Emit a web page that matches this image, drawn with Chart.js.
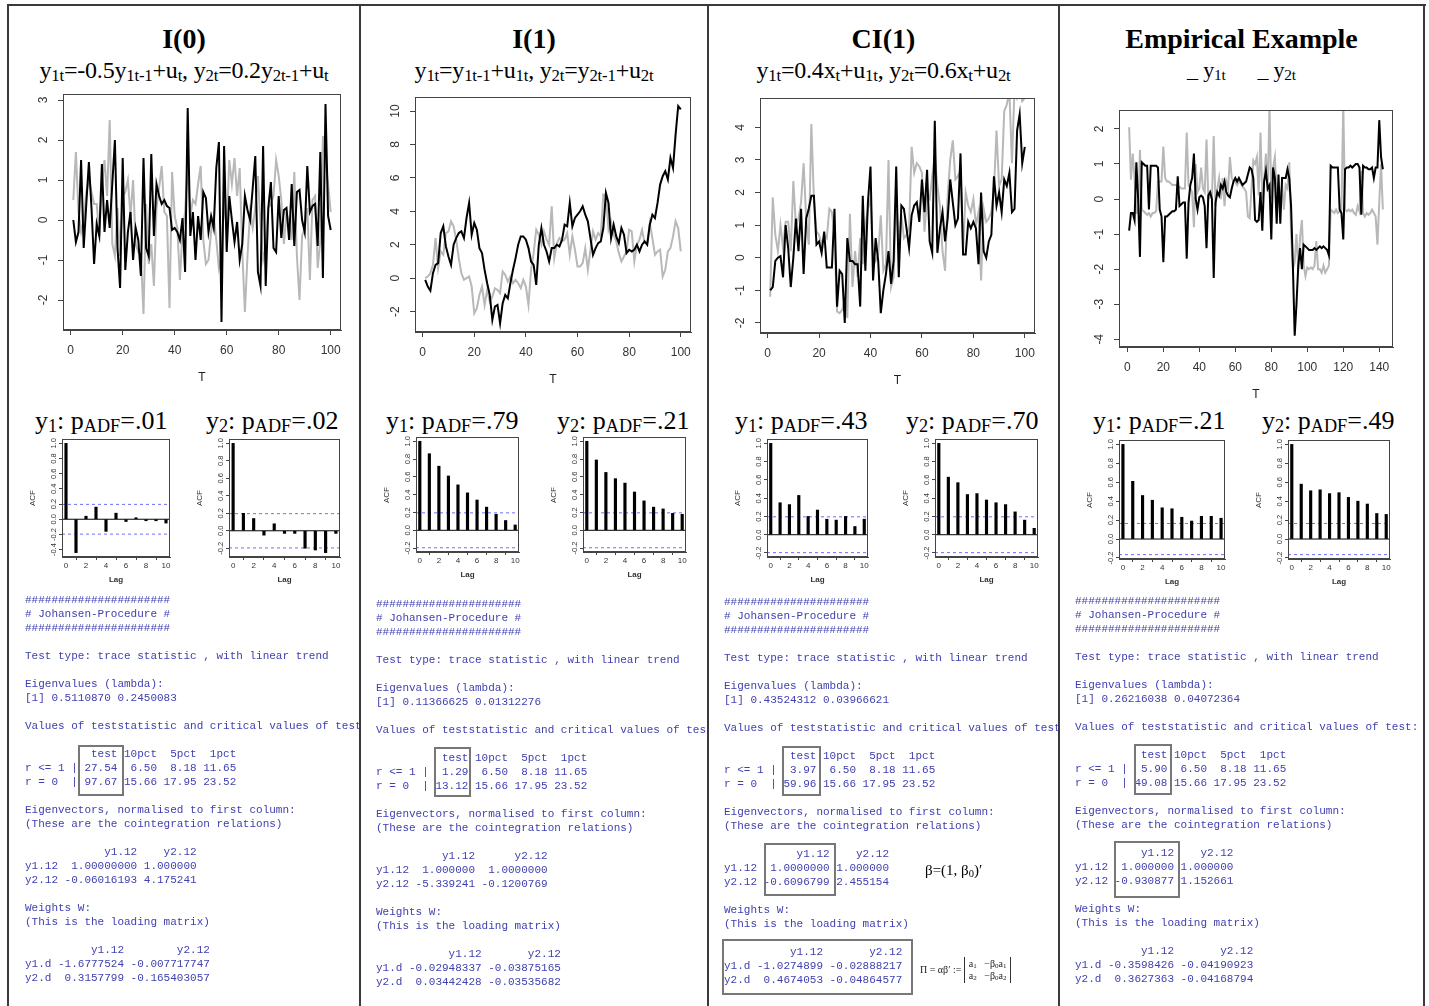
<!DOCTYPE html>
<html><head><meta charset="utf-8">
<script src="https://cdn.jsdelivr.net/npm/chart.js@4.4.1/dist/chart.umd.min.js"></script>
<style>
body{margin:0;width:1429px;height:1006px;position:relative;background:#fff;overflow:hidden;font-family:"Liberation Serif","Times New Roman",serif;color:#000}
canvas{position:absolute}
.vl{position:absolute;top:4px;height:1010px;width:2px;background:#3a3a3a}
.hl{position:absolute;left:8px;width:1418px;top:4px;height:2px;background:#3a3a3a}
.title{position:absolute;top:25px;font-weight:bold;font-size:28px;line-height:28px;text-align:center;white-space:nowrap}
.sub{position:absolute;top:58px;font-size:24px;line-height:24px;text-align:center;white-space:nowrap;letter-spacing:-0.2px}
sub{font-size:0.7em;vertical-align:-0.18em;line-height:0}
.acfh{position:absolute;top:408px;font-size:26px;line-height:26px;white-space:nowrap}
.axl{position:absolute;font:12px "Liberation Sans",Arial,sans-serif;color:#222;transform:translate(-50%,-50%);white-space:nowrap}
.lag{position:absolute;font:bold 8px "Liberation Sans",Arial,sans-serif;color:#333;transform:translate(-50%,-50%)}
.acfl{position:absolute;font:8px "Liberation Sans",Arial,sans-serif;color:#333;transform:translate(-50%,-50%) rotate(-90deg)}
.col{position:absolute;top:585px;height:421px;overflow:hidden}
pre{position:absolute;margin:0;font-family:"Liberation Mono","Courier New",monospace;font-size:11px;line-height:14px;color:#4040b0}
.bx{position:absolute;border:2px solid #777;box-sizing:border-box}
</style></head><body>

<div class="hl"></div>
<div class="vl" style="left:7px"></div>
<div class="vl" style="left:359px"></div>
<div class="vl" style="left:707px"></div>
<div class="vl" style="left:1058px"></div>
<div class="vl" style="left:1423px"></div>

<div class="title" style="left:9px;width:350px">I(0)</div>
<div class="title" style="left:361px;width:346px">I(1)</div>
<div class="title" style="left:709px;width:349px">CI(1)</div>
<div class="title" style="left:1060px;width:363px">Empirical Example</div>

<div class="sub" style="left:9px;width:350px">y<sub>1t</sub>=-0.5y<sub>1t-1</sub>+u<sub>t</sub>, y<sub>2t</sub>=0.2y<sub>2t-1</sub>+u<sub>t</sub></div>
<div class="sub" style="left:361px;width:346px">y<sub>1t</sub>=y<sub>1t-1</sub>+u<sub>1t</sub>, y<sub>2t</sub>=y<sub>2t-1</sub>+u<sub>2t</sub></div>
<div class="sub" style="left:709px;width:349px">y<sub>1t</sub>=0.4x<sub>t</sub>+u<sub>1t</sub>, y<sub>2t</sub>=0.6x<sub>t</sub>+u<sub>2t</sub></div>
<div class="sub" style="left:1060px;width:363px;font-size:22px">_ y<sub>1t</sub>&nbsp;&nbsp;&nbsp;&nbsp;&nbsp; _ y<sub>2t</sub></div>

<div class="acfh" style="left:35px">y<sub>1</sub>: p<sub>ADF</sub>=.01</div>
<div class="acfh" style="left:206px">y<sub>2</sub>: p<sub>ADF</sub>=.02</div>
<div class="acfh" style="left:386px">y<sub>1</sub>: p<sub>ADF</sub>=.79</div>
<div class="acfh" style="left:557px">y<sub>2</sub>: p<sub>ADF</sub>=.21</div>
<div class="acfh" style="left:735px">y<sub>1</sub>: p<sub>ADF</sub>=.43</div>
<div class="acfh" style="left:906px">y<sub>2</sub>: p<sub>ADF</sub>=.70</div>
<div class="acfh" style="left:1093px">y<sub>1</sub>: p<sub>ADF</sub>=.21</div>
<div class="acfh" style="left:1262px">y<sub>2</sub>: p<sub>ADF</sub>=.49</div>

<canvas id="m1"></canvas><canvas id="m2"></canvas><canvas id="m3"></canvas><canvas id="m4"></canvas>
<canvas id="a1l"></canvas><canvas id="a1r"></canvas><canvas id="a2l"></canvas><canvas id="a2r"></canvas>
<canvas id="a3l"></canvas><canvas id="a3r"></canvas><canvas id="a4l"></canvas><canvas id="a4r"></canvas>

<div id="labels"></div>

<div class="col" style="left:9px;width:350px"><pre style="left:16px;top:8px">######################
# Johansen-Procedure #
######################

Test type: trace statistic , with linear trend 

Eigenvalues (lambda):
[1] 0.5110870 0.2450083

Values of teststatistic and critical values of test:

          test 10pct  5pct  1pct
r &lt;= 1 | 27.54  6.50  8.18 11.65
r = 0  | 97.67 15.66 17.95 23.52

Eigenvectors, normalised to first column:
(These are the cointegration relations)

            y1.12    y2.12
y1.12  1.00000000 1.000000
y2.12 -0.06016193 4.175241

Weights W:
(This is the loading matrix)

          y1.12        y2.12
y1.d -1.6777524 -0.007717747
y2.d  0.3157799 -0.165403057</pre></div>

<div class="col" style="left:361px;width:346px"><pre style="left:15px;top:12px">######################
# Johansen-Procedure #
######################

Test type: trace statistic , with linear trend 

Eigenvalues (lambda):
[1] 0.11366625 0.01312276

Values of teststatistic and critical values of test:

          test 10pct  5pct  1pct
r &lt;= 1 |  1.29  6.50  8.18 11.65
r = 0  | 13.12 15.66 17.95 23.52

Eigenvectors, normalised to first column:
(These are the cointegration relations)

          y1.12      y2.12
y1.12  1.000000  1.0000000
y2.12 -5.339241 -0.1200769

Weights W:
(This is the loading matrix)

           y1.12       y2.12
y1.d -0.02948337 -0.03875165
y2.d  0.03442428 -0.03535682</pre></div>

<div class="col" style="left:709px;width:349px"><pre style="left:15px;top:10px">######################
# Johansen-Procedure #
######################

Test type: trace statistic , with linear trend 

Eigenvalues (lambda):
[1] 0.43524312 0.03966621

Values of teststatistic and critical values of test:

          test 10pct  5pct  1pct
r &lt;= 1 |  3.97  6.50  8.18 11.65
r = 0  | 59.96 15.66 17.95 23.52

Eigenvectors, normalised to first column:
(These are the cointegration relations)

           y1.12    y2.12
y1.12  1.0000000 1.000000
y2.12 -0.6096799 2.455154

Weights W:
(This is the loading matrix)

          y1.12       y2.12
y1.d -1.0274899 -0.02888217
y2.d  0.4674053 -0.04864577</pre></div>

<div class="col" style="left:1060px;width:363px"><pre style="left:15px;top:9px">######################
# Johansen-Procedure #
######################

Test type: trace statistic , with linear trend 

Eigenvalues (lambda):
[1] 0.26216038 0.04072364

Values of teststatistic and critical values of test:

          test 10pct  5pct  1pct
r &lt;= 1 |  5.90  6.50  8.18 11.65
r = 0  | 49.08 15.66 17.95 23.52

Eigenvectors, normalised to first column:
(These are the cointegration relations)

          y1.12    y2.12
y1.12  1.000000 1.000000
y2.12 -0.930877 1.152661

Weights W:
(This is the loading matrix)

          y1.12       y2.12
y1.d -0.3598426 -0.04190923
y2.d  0.3627363 -0.04168794</pre></div>

<div class="bx" style="left:78px;top:745px;width:46px;height:51px"></div>
<div class="bx" style="left:434px;top:747px;width:37px;height:50px"></div>
<div class="bx" style="left:782px;top:746px;width:39px;height:50px"></div>
<div class="bx" style="left:1134px;top:744px;width:38px;height:51px"></div>
<div class="bx" style="left:764px;top:843px;width:72px;height:53px"></div>
<div class="bx" style="left:1114px;top:841px;width:66px;height:57px"></div>
<div class="bx" style="left:722px;top:939px;width:191px;height:56px"></div>

<div style="position:absolute;left:925px;top:863px;font-size:15px;line-height:15px;white-space:nowrap">β=(1, β<sub>0</sub>)′</div>
<div style="position:absolute;left:920px;top:957px;font-size:10px;line-height:12px;white-space:nowrap;display:flex;align-items:center;color:#222">
<span>Π = αβ′ :=&nbsp;</span>
<span style="display:inline-block;border-left:1px solid #333;border-right:1px solid #333;padding:1px 4px;line-height:12px">a<sub>1</sub>&nbsp;&nbsp; −β<sub>0</sub>a<sub>1</sub><br>a<sub>2</sub>&nbsp;&nbsp; −β<sub>0</sub>a<sub>2</sub></span>
</div>

<script>
// ---------- DATA ----------
const i0_y1 = [0,-0.55,-0.3,1.5,-0.7,0.4,1.45,0.3,-1.1,-0.1,
 -0.4,1.4,-0.3,0.5,-0.2,0.9,2.0,-0.7,-1.7,1.55,
 -1.25,-0.3,0.2,-1.0,-0.2,-0.5,-1.4,1.55,-0.7,-0.9,
 1.65,-0.4,0.9,0.6,0.4,0.5,0.35,0.3,-0.25,-0.2,
 -0.3,-0.5,0.05,-1.3,2.8,-0.4,0.2,-1.0,0.1,-0.5,
 0.7,0.55,-0.3,0.1,-0.2,1.3,1.95,-2.55,1.85,-0.8,
 0.6,0.0,-0.55,-0.05,-1.0,-0.6,0.6,0.25,0.0,0.8,
 1.6,-1.3,-1.65,1.85,-1.65,0.3,0.95,-0.7,-0.8,0.6,
 -0.45,0.25,0.3,-0.5,0.9,-0.65,0.7,0.75,0.0,-0.3,
 1.35,0.2,0.35,0.4,-0.65,1.7,-1.45,2.9,0.1,-0.25];
const i0_y2 = [0.5,1.7,0.2,-0.3,0.0,0.7,1.0,0.7,0.4,0.4,
 -0.4,0.9,1.5,0.6,2.5,-0.6,-0.9,0.3,-0.9,0.6,
 0.7,1.0,0.1,1.0,-0.6,-0.8,-0.9,-2.35,0.4,-1.1,
 -0.6,-1.65,0.3,0.8,1.35,0.2,0.1,-2.2,1.2,0.1,
 -0.2,-1.5,-0.3,0.2,1.4,0.1,0.5,0.4,0.9,1.35,
 -0.5,-1.1,-1.0,-0.3,0.1,-0.5,-1.2,-0.9,0.5,-0.2,
 1.5,0.9,1.55,0.6,1.3,-0.8,-2.3,-0.9,0.2,-0.2,
 0.3,1.1,-0.1,-1.0,-0.7,0.3,0.4,0.6,1.5,1.1,
 0.5,-0.6,0.2,-0.1,-0.5,1.2,-0.9,-2.0,-0.4,-0.2,
 0.3,-1.5,0.5,0.6,-1.2,-0.5,2.1,1.5,0.9,0.2];
const i1_y1 = [-0.1,-0.5,-0.75,0.3,0.8,0.9,2.7,3.1,1.9,1.3,
 0.8,2.0,2.4,2.7,2.8,2.4,3.6,4.5,2.6,3.3,
 2.9,1.8,1.5,0.5,-0.3,-1.0,-2.5,-1.7,-1.6,-2.7,
 -1.5,-1.0,-1.2,-0.3,0.5,1.2,2.0,2.5,2.5,2.3,
 1.8,1.0,0.8,-0.4,2.0,3.0,2.0,1.6,1.0,1.8,
 1.8,2.0,1.9,2.3,3.2,3.1,4.5,3.1,3.6,3.8,
 4.0,4.3,3.8,3.4,2.4,1.4,1.8,2.1,2.2,3.0,
 5.1,4.5,2.4,3.2,2.5,2.1,3.0,2.6,1.5,1.7,
 1.6,1.7,2.0,1.6,2.0,2.2,2.0,3.2,3.8,3.6,
 4.5,5.6,6.1,6.4,5.9,7.2,6.6,8.6,10.3,10.1];
const i1_y2 = [0.0,0.1,0.3,0.8,2.4,0.6,1.6,1.4,2.7,2.8,
 3.4,3.1,2.3,1.2,0.3,-0.1,0.0,0.1,-0.5,-2.1,
 -1.8,-1.0,-0.5,-1.6,-0.7,-1.4,-1.1,-0.6,-0.7,-0.9,
 0.4,0.2,-0.2,0.1,-0.3,-0.1,-0.3,-0.6,-0.1,-0.5,
 -1.6,0.5,1.5,2.9,2.6,2.0,2.8,2.3,2.0,4.3,
 1.2,2.1,2.4,2.2,2.3,2.7,1.4,2.5,1.7,0.7,
 0.7,0.9,1.8,0.5,1.7,2.8,2.3,2.7,2.5,5.0,
 4.9,2.9,3.4,2.6,2.2,1.5,1.0,1.3,1.6,2.9,
 2.8,1.0,2.0,2.3,2.9,2.1,2.1,3.3,2.4,1.4,
 1.6,1.7,0.1,0.5,1.6,1.8,2.5,3.4,3.0,1.6];
const ci_y1 = [-1.0,-0.9,-0.1,0.0,0.05,-0.6,1.0,0.3,-0.9,0.0,
 1.2,0.2,1.5,-0.5,1.2,1.5,1.9,1.9,0.4,0.5,
 0.15,0.8,-0.3,-0.3,-0.3,1.5,-1.5,-0.4,-0.5,-2.0,
 0.6,-0.1,-0.1,-0.2,-0.2,-1.5,1.9,-0.4,1.7,2.8,
 -0.7,0.6,-0.1,-1.7,-1.0,-0.5,0.2,-0.8,-0.1,2.8,
 -0.6,1.6,1.5,0.9,0.3,1.3,1.6,1.7,1.1,2.4,
 1.4,2.7,0.5,0.15,4.2,0.15,0.9,1.4,0.5,1.2,
 2.4,1.7,1.0,1.2,3.2,0.1,0.1,1.1,0.9,1.1,
 0.9,-0.2,2.0,0.2,0.0,0.5,0.7,2.5,1.6,2.0,
 1.4,2.4,2.2,2.6,1.4,1.5,3.9,4.4,2.9,3.4];
const ci_y2 = [-1.2,1.85,0.7,0.2,1.0,0.3,1.1,1.1,0.2,2.35,
 1.0,1.2,1.7,2.9,1.2,0.4,4.1,1.8,0.8,0.7,
 0.4,0.7,0.6,1.5,1.4,0.7,-1.65,-1.7,-1.6,-1.3,
 -1.85,1.35,-0.9,0.2,-0.6,0.6,-0.2,1.0,1.5,1.8,
 0.1,-0.1,0.1,1.3,-0.4,-0.2,3.0,-0.9,-0.6,2.0,
 0.2,1.3,0.6,0.7,0.9,3.4,2.6,2.9,2.8,2.6,
 0.8,1.9,1.8,2.5,3.1,2.2,1.6,0.2,-0.4,1.9,
 3.0,3.6,2.4,2.5,2.7,0.2,2.0,1.6,1.4,1.8,
 1.0,1.4,-0.7,1.5,1.1,1.2,1.4,2.1,3.9,2.2,
 2.4,4.5,4.7,5.1,2.9,5.2,4.9,5.1,4.8,4.9];
const emp_y1 = [-0.9,-0.4,-0.4,-0.6,1.05,0.0,-1.65,1.05,1.0,0.95,
 0.95,-0.3,0.95,0.95,0.95,0.95,0.9,-0.3,-0.5,-1.8,
 -0.5,-0.5,-0.45,-0.4,-0.35,-0.35,-0.3,0.65,-0.2,-0.15,
 -0.1,-0.1,-1.7,-0.1,0.4,0.6,1.3,0.0,-0.3,0.05,
 0.1,0.05,-0.2,-1.4,0.1,0.2,0.0,-2.25,-0.1,0.2,
 0.1,0.4,0.3,0.5,0.2,0.1,0.05,0.3,0.5,0.6,
 0.5,0.6,0.5,0.4,0.45,0.5,0.7,0.9,0.85,0.6,
 -0.6,-0.65,-0.6,0.2,-0.9,0.5,0.8,0.3,0.4,-1.15,
 0.9,0.6,-0.7,0.7,-0.7,0.6,0.6,0.6,0.85,0.6,
 -0.2,-1.9,-3.9,-3.0,-1.9,-1.4,-2.0,-1.3,-1.35,-1.4,
 -1.45,-1.45,-1.45,-1.4,-1.45,-1.4,-1.35,-1.4,-1.35,-1.4,
 -1.45,-1.6,0.95,0.9,0.9,0.9,0.9,-0.3,-0.4,-1.15,
 0.85,0.9,0.9,0.95,0.9,0.95,1.0,1.0,0.9,-0.45,
 0.95,0.9,0.9,0.85,0.85,0.9,0.6,0.9,0.9,2.25,
 1.2,0.85];
const emp_y2 = [2.05,0.55,1.3,0.6,-0.4,-0.4,1.4,-0.3,-0.35,-0.4,
 -0.45,-0.4,-0.5,-0.4,-0.4,-0.35,0.5,0.5,0.5,1.5,
 0.6,0.5,0.5,0.45,0.4,0.4,0.4,0.35,0.35,0.3,
 0.3,0.3,1.9,0.4,0.3,0.2,-0.8,1.0,0.2,0.3,
 0.9,0.3,0.2,1.7,0.0,0.1,0.0,1.8,-0.2,0.3,
 0.6,0.0,0.6,-0.2,0.5,0.3,1.2,0.6,0.5,0.5,
 0.4,0.5,0.45,0.35,0.3,0.2,-0.5,-0.55,0.3,1.1,
 1.0,1.2,0.1,1.9,0.0,0.5,1.3,0.2,2.7,0.0,
 0.9,1.2,0.1,0.4,0.0,0.4,-0.3,0.4,0.3,1.05,
 -1.0,-2.0,-1.8,-1.0,-2.0,-1.1,-0.6,-1.9,-2.2,-1.95,
 -2.0,-1.95,-2.0,-1.9,-1.2,-2.0,-2.0,-2.1,-1.9,-2.1,
 -2.0,-1.9,-0.3,-0.35,-0.4,-0.3,-0.4,-0.35,-0.3,2.7,
 -0.3,-0.35,-0.3,-0.35,-0.3,-0.4,-0.45,-0.2,-0.35,0.8,
 -0.4,-0.5,-0.4,-0.45,-0.4,-0.3,-0.4,-0.5,-1.3,-0.1,
 1.0,-0.3];

const lags = [0,1,2,3,4,5,6,7,8,9,10];
const acf_i0_y1 = [1.0,-0.44,0.04,0.16,-0.16,0.08,-0.03,0.02,-0.02,-0.02,-0.05];
const acf_i0_y2 = [1.0,0.20,0.14,-0.05,0.08,-0.03,-0.03,-0.20,-0.22,-0.25,-0.03];
const acf_i1_y1 = [1.0,0.86,0.72,0.61,0.51,0.42,0.34,0.26,0.18,0.11,0.06];
const acf_i1_y2 = [1.0,0.79,0.65,0.58,0.53,0.43,0.33,0.26,0.24,0.19,0.18];
const acf_ci_y1 = [1.0,0.35,0.33,0.43,0.20,0.27,0.17,0.16,0.20,0.09,0.17];
const acf_ci_y2 = [1.0,0.63,0.57,0.44,0.45,0.38,0.35,0.33,0.25,0.16,0.07];
const acf_emp_y1 = [1.0,0.61,0.46,0.41,0.33,0.32,0.23,0.19,0.24,0.24,0.22];
const acf_emp_y2 = [1.0,0.58,0.51,0.52,0.48,0.49,0.44,0.40,0.37,0.27,0.26];

const xTicks100 = [0,20,40,60,80,100];
const xTicks140 = [0,20,40,60,80,100,120,140];
const yTicks_i0 = [-2,-1,0,1,2,3];
const yTicks_i1 = [-2,0,2,4,6,8,10];
const yTicks_ci = [-2,-1,0,1,2,3,4];
const yTicks_emp = [-4,-3,-2,-1,0,1,2];
const acfXTicks = [0,2,4,6,8,10];

// ---------- HELPERS ----------
const rStyle = {
  id:'rstyle',
  afterDraw(chart, args, o){
    const ctx = chart.ctx, a = chart.chartArea;
    ctx.save();
    ctx.strokeStyle = '#444'; ctx.lineWidth = 1;
    ctx.strokeRect(Math.round(a.left)+0.5, Math.round(a.top)+0.5, Math.round(a.right-a.left)-1, Math.round(a.bottom-a.top)-1);
    const ys = chart.scales.y;
    ctx.fillStyle = '#333'; ctx.font = o.font;
    ctx.textAlign = 'center'; ctx.textBaseline = 'middle';
    for (const t of ys.ticks){
      const py = ys.getPixelForValue(t.value);
      ctx.save(); ctx.translate(a.left - o.offset, py); ctx.rotate(-Math.PI/2);
      ctx.fillText(o.dec ? t.value.toFixed(o.dec) : String(t.value), 0, 0);
      ctx.restore();
    }
    ctx.restore();
  }
};

function place(cv, box, L, T, R, B){
  cv.width = box.w + L + R; cv.height = box.h + T + B;
  cv.style.left = (box.x - L) + 'px'; cv.style.top = (box.y - T) + 'px';
  cv.style.width = cv.width + 'px'; cv.style.height = cv.height + 'px';
}

function addLabel(cls, text, x, y){
  const d = document.createElement('div');
  d.className = cls; d.textContent = text;
  d.style.left = x + 'px'; d.style.top = y + 'px';
  document.getElementById('labels').appendChild(d);
}

function axisCommon(ticksArr, fit, isX, opts){
  return Object.assign({
    type:'linear',
    afterBuildTicks: s => { s.ticks = ticksArr.map(v => ({value:v})); },
    afterFit: s => { if (isX) s.height = fit; else s.width = fit; },
    grid:{drawOnChartArea:false, drawTicks:true, tickLength:opts.tl, color:'#444', lineWidth:1},
    border:{display:true, color:'#444', width:1},
    ticks:{autoSkip:false, maxRotation:0, minRotation:0, padding:opts.pad,
      color: isX ? '#333' : 'rgba(0,0,0,0)', font:{family:'Liberation Sans', size:opts.fs}}
  }, opts.extra || {});
}

function lineChart(id, box, y1, y2, xr, yr, xt, yt){
  const L=45, T=14, R=18, B=45;
  const cv = document.getElementById(id);
  place(cv, box, L, T, R, B);
  new Chart(cv, {
    type:'line',
    data:{datasets:[
      {data:y1.map((v,i)=>({x:i+1,y:v})), borderColor:'#000', borderWidth:2, pointRadius:0, tension:0},
      {data:y2.map((v,i)=>({x:i+1,y:v})), borderColor:'#b8b8b8', borderWidth:2, pointRadius:0, tension:0}
    ]},
    options:{
      responsive:false, animation:false, devicePixelRatio:1,
      layout:{padding:{left:0, top:T, right:R, bottom:0}},
      plugins:{legend:{display:false}, tooltip:{enabled:false}, rstyle:{offset:19, font:'12px "Liberation Sans"'}},
      scales:{
        x: Object.assign(axisCommon(xt, B, true, {tl:5, pad:8, fs:12}), {min:xr[0], max:xr[1]}),
        y: Object.assign(axisCommon(yt, L, false, {tl:5, pad:4, fs:12}), {min:yr[0], max:yr[1]})
      }
    },
    plugins:[rStyle]
  });
  addLabel('axl', 'T', box.x + box.w/2, box.y + box.h + 47);
}

function acfChart(id, box, vals, n){
  const L=40, T=8, R=10, B=30;
  const cv = document.getElementById(id);
  place(cv, box, L, T, R, B);
  const clim = 1.96/Math.sqrt(n);
  const lo = Math.min(Math.min(...vals), -clim), hi = Math.max(1, clim);
  const ext = 0.04*(hi-lo);
  const yt = [];
  for (let v = Math.ceil((lo-ext)*5-1e-9); v <= Math.floor((hi+ext)*5+1e-9); v++) yt.push(Math.round(v*2)/10);
  const xr = [-0.4, 10.4];
  new Chart(cv, {
    type:'bar',
    data:{datasets:[
      {type:'bar', data:lags.map((l,i)=>({x:l,y:vals[i]})), backgroundColor:'#000', barThickness:2.5, order:1},
      {type:'line', data:[{x:xr[0],y:0},{x:xr[1],y:0}], borderColor:'#000', borderWidth:1, pointRadius:0, order:2},
      {type:'line', data:[{x:xr[0],y:clim},{x:xr[1],y:clim}], borderColor:'#6f6fff', borderWidth:1, borderDash:[3,3], pointRadius:0, order:3},
      {type:'line', data:[{x:xr[0],y:-clim},{x:xr[1],y:-clim}], borderColor:'#6f6fff', borderWidth:1, borderDash:[3,3], pointRadius:0, order:3}
    ]},
    options:{
      responsive:false, animation:false, devicePixelRatio:1,
      layout:{padding:{left:0, top:T, right:R, bottom:0}},
      plugins:{legend:{display:false}, tooltip:{enabled:false}, rstyle:{offset:8, font:'7.5px "Liberation Sans"', dec:1}},
      scales:{
        x: Object.assign(axisCommon(acfXTicks, B, true, {tl:3, pad:1, fs:8}), {min:xr[0], max:xr[1], offset:false}),
        y: Object.assign(axisCommon(yt, L, false, {tl:3, pad:2, fs:7}), {min:lo-ext, max:hi+ext, beginAtZero:false})
      }
    },
    plugins:[rStyle]
  });
  addLabel('lag', 'Lag', box.x + box.w/2, box.y + box.h + 22);
  addLabel('acfl', 'ACF', box.x - 30, box.y + box.h/2);
}

// ---------- CHARTS ----------
lineChart('m1', {x:63,y:94,w:278,h:236}, i0_y1, i0_y2, [-2.96,103.96], [-2.75,3.15], xTicks100, yTicks_i0);
lineChart('m2', {x:415,y:97,w:276,h:235}, i1_y1, i1_y2, [-2.96,103.96], [-3.22,10.84], xTicks100, yTicks_i1);
lineChart('m3', {x:760,y:98,w:275,h:235}, ci_y1, ci_y2, [-2.96,103.96], [-2.31,4.9], xTicks100, yTicks_ci);
lineChart('m4', {x:1119,y:110,w:274,h:237}, emp_y1, emp_y2, [-4.64,147.64], [-4.22,2.54], xTicks140, yTicks_emp);

acfChart('a1l', {x:62,y:439,w:108,h:118}, acf_i0_y1, 100);
acfChart('a1r', {x:229,y:439,w:111,h:118}, acf_i0_y2, 100);
acfChart('a2l', {x:416,y:437,w:103,h:115}, acf_i1_y1, 100);
acfChart('a2r', {x:583,y:437,w:103,h:115}, acf_i1_y2, 100);
acfChart('a3l', {x:767,y:439,w:101,h:118}, acf_ci_y1, 100);
acfChart('a3r', {x:935,y:439,w:103,h:118}, acf_ci_y2, 100);
acfChart('a4l', {x:1119,y:440,w:106,h:119}, acf_emp_y1, 142);
acfChart('a4r', {x:1288,y:440,w:102,h:119}, acf_emp_y2, 142);
</script>
</body></html>
